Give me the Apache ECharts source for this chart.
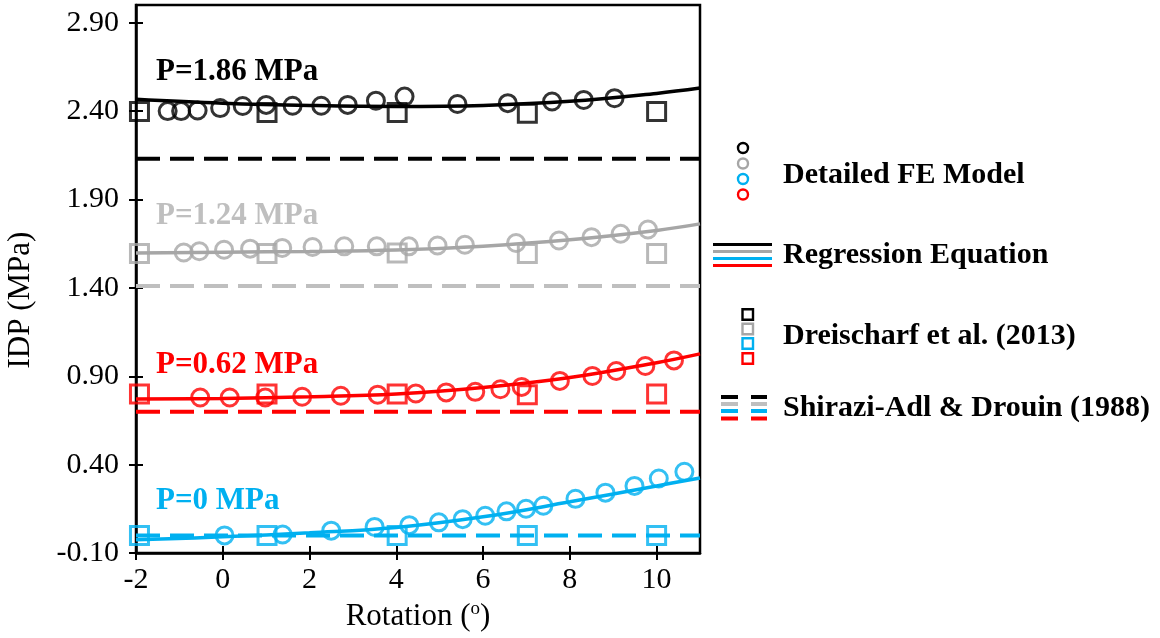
<!DOCTYPE html>
<html>
<head>
<meta charset="utf-8">
<script src="https://cdn.jsdelivr.net/npm/echarts@6/dist/echarts.min.js"></script>
<style>
  html, body { margin: 0; padding: 0; background: #ffffff; }
  #chart { width: 1160px; height: 638px; }
</style>
</head>
<body>
<div id="chart"></div>
<script>
// Axis ticks
const xTicks = [-2, 0, 2, 4, 6, 8, 10];
const yTicks = [-0.1, 0.4, 0.9, 1.4, 1.9, 2.4, 2.9];

// Pressure levels (label text and colour for each)
const pressureLabels = ['P=1.86 MPa', 'P=1.24 MPa', 'P=0.62 MPa', 'P=0 MPa'];

// Detailed FE model results: rotation (deg) and IDP (MPa)
const feX_186 = [-1.27, -0.96, -0.58, -0.06, 0.46, 1.0, 1.61, 2.27, 2.88, 3.53, 4.19, 5.41, 6.57, 7.59, 8.32, 9.03];
const feY_186 = [2.40, 2.40, 2.403, 2.417, 2.429, 2.435, 2.43, 2.43, 2.435, 2.459, 2.482, 2.44, 2.445, 2.454, 2.463, 2.473];
const feX_124 = [-0.9, -0.54, 0.03, 0.63, 1.37, 2.07, 2.8, 3.55, 4.29, 4.95, 5.58, 6.76, 7.75, 8.5, 9.17, 9.8];
const feY_124 = [1.60, 1.607, 1.616, 1.622, 1.626, 1.631, 1.635, 1.635, 1.635, 1.64, 1.644, 1.654, 1.668, 1.687, 1.706, 1.73];
const feX_062 = [-0.52, 0.16, 0.98, 1.83, 2.72, 3.57, 4.45, 5.15, 5.82, 6.40, 6.89, 7.77, 8.52, 9.07, 9.74, 10.40];
const feY_062 = [0.78, 0.78, 0.78, 0.784, 0.79, 0.796, 0.803, 0.809, 0.812, 0.827, 0.84, 0.874, 0.902, 0.93, 0.958, 0.99];
const feX_0 = [0.04, 1.38, 2.50, 3.50, 4.30, 4.98, 5.53, 6.05, 6.54, 6.99, 7.39, 8.13, 8.82, 9.49, 10.05, 10.64];
const feY_0 = [0.0, 0.005, 0.027, 0.048, 0.058, 0.074, 0.092, 0.111, 0.136, 0.151, 0.168, 0.207, 0.242, 0.28, 0.322, 0.36];

// Regression equation curves
const regX = [-2, 0, 2, 4, 6, 8, 10, 11];
const regY_186 = [2.467, 2.445, 2.432, 2.426, 2.432, 2.455, 2.50, 2.53];
const regY_124 = [1.598, 1.602, 1.606, 1.614, 1.636, 1.672, 1.725, 1.762];
const regY_062 = [0.771, 0.775, 0.784, 0.80, 0.837, 0.893, 0.977, 1.027];
const regY_0 = [-0.025, -0.008, 0.015, 0.045, 0.105, 0.19, 0.28, 0.325];

// Dreischarf et al. (2013)
const drX = [-1.92, 1.02, 4.02, 7.02, 10.0];
const drY_186 = [2.397, 2.392, 2.392, 2.388, 2.397];
const drY_124 = [1.595, 1.595, 1.597, 1.594, 1.595];
const drY_062 = [0.80, 0.80, 0.80, 0.796, 0.80];
const drY_0 = [0.0, 0.0, 0.0, 0.0, 0.0];

// Shirazi-Adl & Drouin (1988): constant IDP for each pressure level
const shiraziIDP = [2.13, 1.41, 0.70, 0.00];

const X_MIN = -2, X_MAX = 11, Y_MIN = -0.1, Y_MAX = 3.0;

const COLORS = ['#000000', '#a6a6a6', '#ff0000', '#00b0f0'];
const DASH_COLORS = ['#000000', '#bfbfbf', '#ff0000', '#00b0f0'];
const LABEL_COLORS = ['#000000', '#bfbfbf', '#ff0000', '#00b0f0'];
const FONT = '"Liberation Serif", "Times New Roman", serif';

const zip = (xs, ys) => xs.map((x, i) => [x, ys[i]]);

const feSets = [[feX_186, feY_186], [feX_124, feY_124], [feX_062, feY_062], [feX_0, feY_0]];
const regSets = [regY_186, regY_124, regY_062, regY_0];
const drSets = [drY_186, drY_124, drY_062, drY_0];

const series = [];
for (let k = 0; k < 4; k++) {
  series.push({
    name: 'Shirazi-Adl ' + pressureLabels[k],
    type: 'line',
    data: [[X_MIN, shiraziIDP[k]], [X_MAX, shiraziIDP[k]]],
    showSymbol: false,
    lineStyle: { color: DASH_COLORS[k], width: 4, type: [24, 10] },
    z: 2,
    silent: true
  });
}
for (let k = 0; k < 4; k++) {
  series.push({
    name: 'Dreischarf ' + pressureLabels[k],
    type: 'scatter',
    data: zip(drX, drSets[k]),
    symbol: 'rect',
    symbolSize: 18,
    itemStyle: { color: 'transparent', borderColor: COLORS[k], borderWidth: 3 },
    z: 3
  });
  series.push({
    name: 'FE ' + pressureLabels[k],
    type: 'scatter',
    data: zip(feSets[k][0], feSets[k][1]),
    symbol: 'circle',
    symbolSize: 17,
    itemStyle: { color: 'transparent', borderColor: COLORS[k], borderWidth: 3 },
    z: 3
  });
  series.push({
    name: 'Regression ' + pressureLabels[k],
    type: 'line',
    data: zip(regX, regSets[k]),
    smooth: 0.4,
    showSymbol: false,
    lineStyle: { color: COLORS[k], width: 3.5 },
    z: 4,
    silent: true
  });
}

// Legend and curve labels drawn as graphic elements
const graphic = [];
const labelY = [72, 216, 365, 501];
pressureLabels.forEach((t, k) => {
  graphic.push({
    type: 'text', x: 156, y: labelY[k],
    style: { text: t, fill: LABEL_COLORS[k], fontFamily: FONT, fontSize: 31, fontWeight: 'bold', verticalAlign: 'middle', align: 'left' }
  });
});
// Legend order top to bottom: black, gray, blue, red
const legendOrder = [0, 1, 3, 2];
const circY = [148, 163.5, 179, 194.5];
const regLegY = [244.5, 251.5, 258.5, 265.5];
const sqY = [314.5, 329, 343.5, 358.5];
const dashY = [397, 404, 411, 418.5];
legendOrder.forEach((k, i) => {
  graphic.push({ type: 'circle', shape: { cx: 743, cy: circY[i], r: 5 }, style: { fill: 'none', stroke: COLORS[k], lineWidth: 2.4 } });
  graphic.push({ type: 'line', shape: { x1: 713, y1: regLegY[i], x2: 772, y2: regLegY[i] }, style: { stroke: COLORS[k], lineWidth: 3 } });
  graphic.push({ type: 'rect', shape: { x: 742.5, y: sqY[i] - 5.25, width: 10.5, height: 10.5 }, style: { fill: 'none', stroke: COLORS[k], lineWidth: 2.4 } });
  graphic.push({ type: 'line', shape: { x1: 721, y1: dashY[i], x2: 738, y2: dashY[i] }, style: { stroke: DASH_COLORS[k], lineWidth: 4 } });
  graphic.push({ type: 'line', shape: { x1: 751, y1: dashY[i], x2: 767, y2: dashY[i] }, style: { stroke: DASH_COLORS[k], lineWidth: 4 } });
});
const legendTexts = ['Detailed FE Model', 'Regression Equation', 'Dreischarf et al. (2013)', 'Shirazi-Adl & Drouin (1988)'];
const legendTextY = [175, 255, 336, 408];
legendTexts.forEach((t, i) => {
  graphic.push({
    type: 'text', x: 783, y: legendTextY[i],
    style: { text: t, fill: '#000', fontFamily: FONT, fontSize: 30, fontWeight: 'bold', verticalAlign: 'middle', align: 'left' }
  });
});

const axisLabelStyle = { color: '#000', fontFamily: FONT, fontSize: 30 };

const option = {
  animation: false,
  backgroundColor: '#ffffff',
  grid: { left: 136, right: 460, top: 5, bottom: 81, show: true, borderColor: '#000', borderWidth: 2.5, backgroundColor: 'transparent' },
  xAxis: [
    {
      type: 'value', position: 'bottom', min: X_MIN, max: X_MAX,
      name: '{a|Rotation (}{s|o}{a|)}',
      nameLocation: 'middle', nameGap: 44,
      nameTextStyle: {
        rich: {
          a: { fontFamily: FONT, fontSize: 31, color: '#000', lineHeight: 34 },
          s: { fontFamily: FONT, fontSize: 19, color: '#000', lineHeight: 34, verticalAlign: 'top', padding: [0, 0, 14, 0] }
        }
      },
      axisLine: { show: true, onZero: false, lineStyle: { color: '#000', width: 2.5 } },
      axisTick: { show: true, inside: false, length: 7, lineStyle: { color: '#000', width: 2 }, customValues: xTicks },
      axisLabel: Object.assign({ margin: 12, customValues: xTicks, formatter: v => String(v) }, axisLabelStyle),
      splitLine: { show: false }
    },
    {
      // inner half of the crossing ticks
      type: 'value', position: 'bottom', min: X_MIN, max: X_MAX,
      axisLine: { show: false, onZero: false },
      axisTick: { show: true, inside: true, length: 7, lineStyle: { color: '#000', width: 2 }, customValues: xTicks },
      axisLabel: { show: false },
      splitLine: { show: false }
    }
  ],
  yAxis: [
    {
      type: 'value', position: 'left', min: Y_MIN, max: Y_MAX,
      name: 'IDP (MPa)',
      nameLocation: 'middle', nameGap: 100,
      nameTextStyle: { fontFamily: FONT, fontSize: 31, color: '#000', padding: [0, 42, 0, 0] },
      axisLine: { show: true, onZero: false, lineStyle: { color: '#000', width: 2.5 } },
      axisTick: { show: true, inside: false, length: 7, lineStyle: { color: '#000', width: 2 }, customValues: yTicks },
      axisLabel: Object.assign({ margin: 17, customValues: yTicks, formatter: v => v.toFixed(2) }, axisLabelStyle),
      splitLine: { show: false }
    },
    {
      // inner half of the crossing ticks
      type: 'value', position: 'left', min: Y_MIN, max: Y_MAX,
      axisLine: { show: false, onZero: false },
      axisTick: { show: true, inside: true, length: 7, lineStyle: { color: '#000', width: 2 }, customValues: yTicks },
      axisLabel: { show: false },
      splitLine: { show: false }
    }
  ],
  series: series,
  graphic: graphic
};

const chart = echarts.init(document.getElementById('chart'), null, { renderer: 'canvas' });
chart.setOption(option);
</script>
</body>
</html>
